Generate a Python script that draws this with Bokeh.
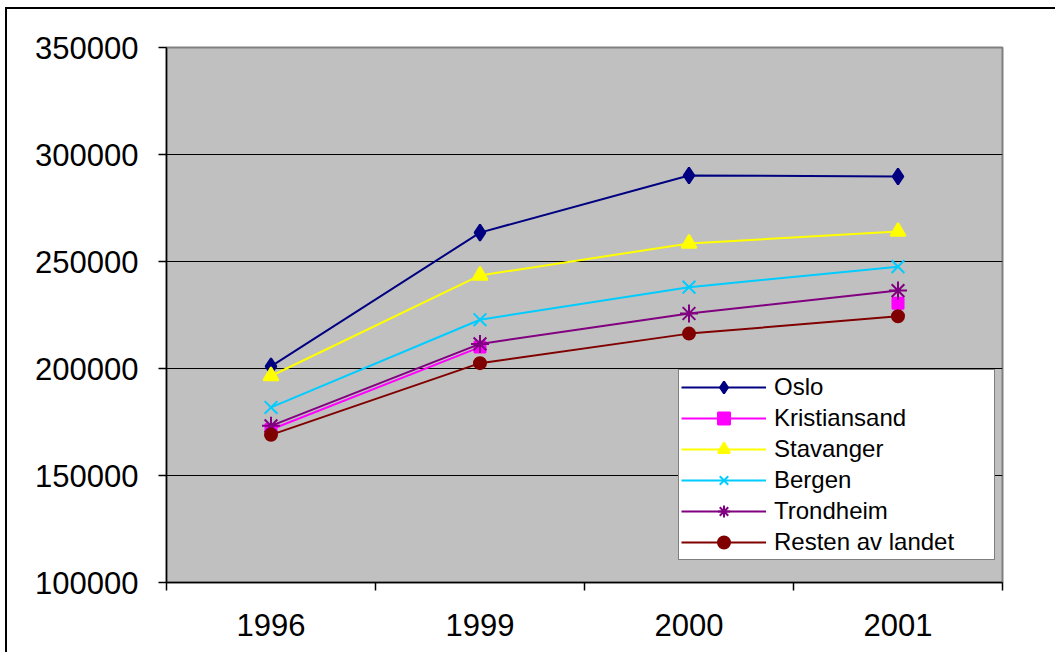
import math
from bokeh.plotting import figure
from bokeh.models import Range1d, FixedTicker, NumeralTickFormatter, Legend
from bokeh.embed import file_html
from bokeh.resources import INLINE

years = ["1996", "1999", "2000", "2001"]
y_ticks = [100000, 150000, 200000, 250000, 300000, 350000]

oslo = [201000, 263500, 290200, 289700]
kristiansand = [171500, 210000, float("nan"), 230500]
stavanger = [196500, 243500, 258400, 264000]
bergen = [181800, 222800, 238000, 247600]
trondheim = [173200, 211500, 225700, 236400]
resten = [169000, 202500, 216300, 224400]

# name, values, colour, marker, size
series = [
    ("Oslo", oslo, "#000080", "diamond", 16),
    ("Kristiansand", kristiansand, "#FF00FF", "square", 11),
    ("Stavanger", stavanger, "#FFFF00", "triangle", 15),
    ("Bergen", bergen, "#00CCFF", "x", 18),
    ("Trondheim", trondheim, "#800080", "asterisk", 18),
    ("Resten av landet", resten, "#800000", "circle", 12),
]

FONT = "Liberation Sans"

p = figure(width=1050, height=645, output_backend="svg", toolbar_location=None,
           x_range=Range1d(0, len(years)), y_range=Range1d(y_ticks[0], y_ticks[-1]),
           min_border_left=159, min_border_top=38, min_border_right=55, min_border_bottom=72,
           background_fill_color="#C0C0C0", border_fill_color="white",
           outline_line_color="#808080", outline_line_width=2)
p.styles = {"border-top": "2px solid black", "border-left": "2px solid black",
            "margin-left": "5px", "margin-top": "7px"}

xs = [i + 0.5 for i in range(len(years))]

legend_items = []
for name, vals, color, marker, size in series:
    r1 = p.line(xs, vals, line_color=color, line_width=2)
    r2 = p.scatter(xs, vals, marker=marker, size=size, fill_color=color,
                   line_color=color, line_width=2)
    legend_items.append((name, [r1, r2]))

# axes
xa = p.xaxis[0]
xa.ticker = FixedTicker(ticks=xs, minor_ticks=list(range(len(years) + 1)))
xa.major_label_overrides = {x: y for x, y in zip(xs, years)}
xa.major_tick_out = 0
xa.major_tick_in = 0
xa.minor_tick_out = 8
xa.minor_tick_in = 0
xa.minor_tick_line_color = "black"
xa.minor_tick_line_width = 1.5
xa.axis_line_color = "black"
xa.axis_line_width = 1.5
xa.major_label_text_font = FONT
xa.major_label_text_font_size = "31px"
xa.major_label_text_color = "black"
xa.major_label_standoff = 23

ya = p.yaxis[0]
ya.ticker = FixedTicker(ticks=y_ticks, minor_ticks=[])
ya.formatter = NumeralTickFormatter(format="0")
ya.major_tick_out = 8
ya.major_tick_in = 0
ya.major_tick_line_color = "black"
ya.major_tick_line_width = 1.5
ya.axis_line_color = "black"
ya.axis_line_width = 1.5
ya.major_label_text_font = FONT
ya.major_label_text_font_size = "31px"
ya.major_label_text_color = "black"
ya.major_label_standoff = 20

p.xgrid.grid_line_color = None
p.ygrid.ticker = FixedTicker(ticks=y_ticks)
p.ygrid.grid_line_color = "black"
p.ygrid.grid_line_width = 1.2

legend = Legend(items=legend_items, location=(512, 22), orientation="vertical",
                padding=2, spacing=1, label_height=30, glyph_height=30,
                glyph_width=85, label_standoff=8, label_width=218,
                label_text_font=FONT, label_text_font_size="24px",
                label_text_color="black",
                border_line_color="black", border_line_width=1.5,
                background_fill_color="white", background_fill_alpha=1)
p.add_layout(legend, "center")

with open("out.html", "w") as f:
    f.write(file_html(p, INLINE))
